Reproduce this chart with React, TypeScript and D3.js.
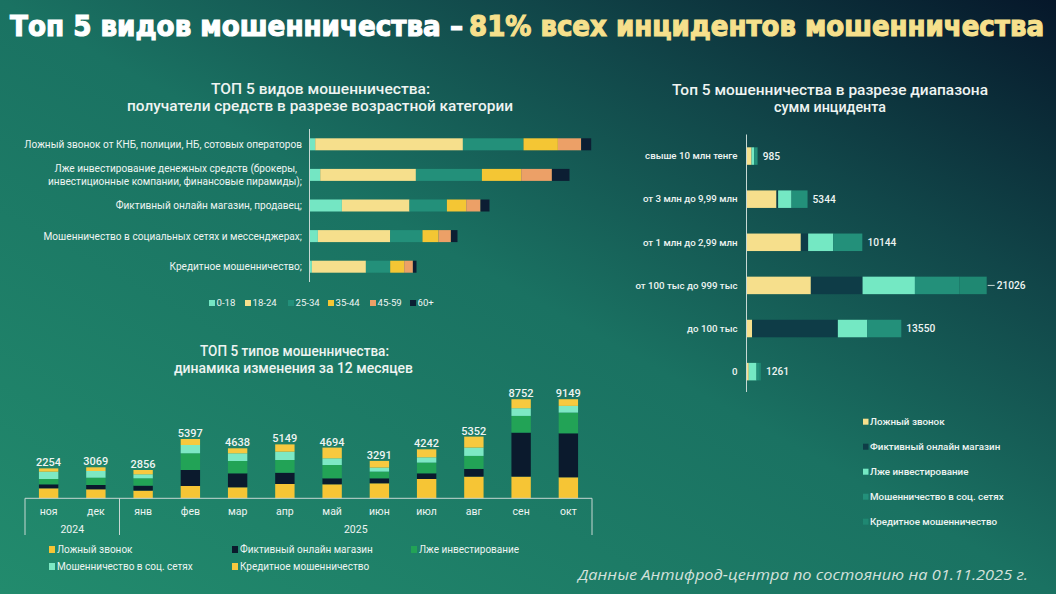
import React from "react";
import * as d3 from "d3";

// --- top-left: fraud types by age group ---
const fraudTypes = [
  ["Ложный звонок от КНБ, полиции, НБ, сотовых операторов"],
  ["Лже инвестирование денежных средств (брокеры,", "инвестиционные компании, финансовые пирамиды);"],
  ["Фиктивный онлайн магазин, продавец;"],
  ["Мошенничество в социальных сетях и мессенджерах;"],
  ["Кредитное мошенничество;"],
];
const ageGroups = ["0-18", "18-24", "25-34", "35-44", "45-59", "60+"];
const ageColors = ["#74e6c3", "#f6df8c", "#23907a", "#f4c634", "#eca067", "#0c1e33"];
const age0_18 = [57, 107, 324, 84, 24];
const age18_24 = [1477, 957, 676, 723, 540];
const age25_34 = [606, 660, 374, 323, 243];
const age35_44 = [344, 393, 193, 160, 140];
const age45_59 = [233, 307, 143, 124, 87];
const age60 = [100, 176, 90, 66, 36];
const ageSeries = [age0_18, age18_24, age25_34, age35_44, age45_59, age60];

// --- bottom: monthly dynamics ---
const months = ["ноя", "дек", "янв", "фев", "мар", "апр", "май", "июн", "июл", "авг", "сен", "окт"];
const yearLabels = ["2024", "2025"];
const yearSpans = [[0, 1], [2, 11]];
const monthTotals = [2254, 3069, 2856, 5397, 4638, 5149, 4694, 3291, 4242, 5352, 8752, 9149];
const falseCall = [920, 828, 708, 1132, 1012, 1316, 1288, 1380, 1776, 1996, 1996, 1932];
const fakeShop = [368, 396, 460, 1472, 1288, 1040, 552, 460, 524, 708, 4048, 4048];
const fakeInvest = [488, 672, 672, 1536, 1132, 1168, 1224, 616, 984, 1196, 1536, 1904];
const socialNet = [672, 616, 368, 764, 708, 764, 616, 368, 488, 764, 708, 616];
const creditFraud = [304, 340, 396, 552, 460, 672, 984, 616, 736, 1012, 828, 616];
const monthSeries = [falseCall, fakeShop, fakeInvest, socialNet, creditFraud];
const monthNames = ["Ложный звонок", "Фиктивный онлайн магазин", "Лже инвестирование", "Мошенничество в соц. сетях", "Кредитное мошенничество"];
const monthColors = ["#f6c535", "#0b1a2d", "#22a356", "#7de8c4", "#f7c93f"];

// --- right: by incident amount ---
const amountRanges = ["свыше 10 млн тенге", "от 3 млн до 9,99 млн", "от 1 млн до 2,99 млн", "от 100 тыс до 999 тыс", "до 100 тыс", "0"];
const rangeTotals = [985, 5344, 10144, 21026, 13550, 1261];
const rFalseCall = [440, 2628, 4757, 5633, 490, 200];
const rFakeShop = [0, 140, 640, 4529, 7507, 0];
const rFakeInvest = [230, 1174, 2190, 4581, 2575, 675];
const rSocial = [263, 1402, 2540, 3881, 2978, 290];
const rCredit = [52, 0, 17, 2402, 0, 96];
const rangeSeries = [rFalseCall, rFakeShop, rFakeInvest, rSocial, rCredit];
const rangeNames = ["Ложный звонок", "Фиктивный онлайн магазин", "Лже инвестирование", "Мошенничество в соц. сетях", "Кредитное мошенничество"];
const rangeColors = ["#f6df8c", "#0e3c47", "#74e8c3", "#23907a", "#1f8872"];

const FONT = "Roboto, 'Noto Sans', sans-serif";
const TITLE_FONT = "'DejaVu Sans Condensed', 'Liberation Sans Narrow', 'DejaVu Sans', sans-serif";
const TXT = "#eef4f2";

function stackRows(series: number[][], n: number) {
  const rows = d3.range(n).map((i) => series.map((s) => s[i]));
  return d3.stack<number[], number>().keys(d3.range(series.length)).value((d, k) => d[k])(rows);
}

function Title({ x, y, w, children }: { x: number; y: number; w: number; children: React.ReactNode }) {
  return (
    <text x={x} y={y} textAnchor="middle" fontSize={14.5} fontWeight={500} fill={TXT}
      textLength={w} lengthAdjust="spacingAndGlyphs">{children}</text>
  );
}

export default function App() {
  const W = 1056;
  const H = 594;

  // top-left scales
  const ageX = d3.scaleLinear().domain([0, 3000]).range([309.5, 609.5]);
  const ageY = d3.scaleBand<number>().domain(d3.range(fraudTypes.length)).range([129, 282]);
  const ageStack = stackRows(ageSeries, fraudTypes.length);
  const ageBarH = 12;

  // bottom scales
  const mX = d3.scaleBand<string>().domain(months).range([25, 592]).paddingInner(0.59).paddingOuter(0.295);
  const mY = d3.scaleLinear().domain([0, 10000]).range([498.3, 389.6]);
  const mStack = stackRows(monthSeries, months.length);

  // right scales
  const rX = d3.scaleLinear().domain([0, 21026]).range([746.5, 986.7]);
  const rY = d3.scaleBand<string>().domain(amountRanges).range([134.5, 393.2]);
  const rStack = stackRows(rangeSeries, amountRanges.length);
  const rBarH = 17.5;
  const rMax = d3.max(rangeTotals) as number;

  const ageLegendX = [209, 245, 288, 328, 370, 410];
  const stepM = mX.step();

  return (
    <svg width={W} height={H} style={{ position: "absolute", left: 0, top: 0, display: "block" }} fontFamily={FONT}>
      <defs>
        <linearGradient id="bg" x1="0" y1="1" x2="1" y2="0">
          <stop offset="0" stopColor="#228b6d" />
          <stop offset="0.5" stopColor="#1a7262" />
          <stop offset="0.75" stopColor="#114649" />
          <stop offset="1" stopColor="#06172a" />
        </linearGradient>
      </defs>
      <rect x={0} y={0} width={W} height={H} fill="url(#bg)" />

      {/* main title */}
      <text x={10} y={36} fontFamily={TITLE_FONT} fontWeight={900} fontSize={29} fill="#ffffff" stroke="#ffffff"
        strokeWidth={1.1} textLength={453} lengthAdjust="spacingAndGlyphs">
        Топ 5 видов мошенничества –
      </text>
      <text x={469} y={36} fontFamily={TITLE_FONT} fontWeight={900} fontSize={29} fill="#f6e08c" stroke="#f6e08c"
        strokeWidth={1.1} textLength={575} lengthAdjust="spacingAndGlyphs">
        81% всех инцидентов мошенничества
      </text>

      {/* ---------- top-left chart ---------- */}
      <Title x={320.5} y={94} w={219}>ТОП 5 видов мошенничества:</Title>
      <Title x={320} y={110.5} w={386}>получатели средств в разрезе возрастной категории</Title>
      {fraudTypes.map((lines, i) => {
        const cy = (ageY(i) as number) + ageY.bandwidth() / 2;
        return lines.map((ln, j) => (
          <text key={`fl${i}-${j}`} x={j === 0 && lines.length > 1 ? 297 : 302} y={cy + 3.5 + (j - (lines.length - 1) / 2) * 13}
            textAnchor="end" fontSize={10.1} fill={TXT}>{ln}</text>
        ));
      })}
      {ageStack.map((layer, k) =>
        layer.map((d, i) => (
          <rect key={`ab${k}-${i}`} x={ageX(d[0])} width={Math.max(0, ageX(d[1]) - ageX(d[0]))}
            y={(ageY(i) as number) + ageY.bandwidth() / 2 - ageBarH / 2} height={ageBarH} fill={ageColors[k]} />
        ))
      )}
      <line x1={309.5} x2={309.5} y1={129} y2={282} stroke="#c7d8d3" strokeWidth={1} />
      {ageGroups.map((g, k) => (
        <g key={`al${k}`}>
          <rect x={ageLegendX[k]} y={300} width={6} height={6} fill={ageColors[k]} />
          <text x={ageLegendX[k] + 7.5} y={306.3} fontSize={9.6} fill={TXT}>{g}</text>
        </g>
      ))}

      {/* ---------- bottom chart ---------- */}
      <Title x={294.5} y={356} w={189}>ТОП 5 типов мошенничества:</Title>
      <Title x={293.5} y={373} w={239}>динамика изменения за 12 месяцев</Title>
      {mStack.map((layer, k) =>
        layer.map((d, i) => (
          <rect key={`mb${k}-${i}`} x={mX(months[i])} width={mX.bandwidth()} y={mY(d[1])}
            height={Math.max(0, mY(d[0]) - mY(d[1]))} fill={monthColors[k]} />
        ))
      )}
      {months.map((m, i) => {
        const top = mY(mStack[mStack.length - 1][i][1]);
        const cx = (mX(m) as number) + mX.bandwidth() / 2;
        return (
          <g key={`ml${i}`}>
            <text x={cx} y={top - 2} textAnchor="middle" fontSize={11} fontWeight={500} fill={TXT}>{monthTotals[i]}</text>
            <text x={cx} y={514.5} textAnchor="middle" fontSize={10.5} fill={TXT}>{m}</text>
          </g>
        );
      })}
      <line x1={25} x2={592} y1={mY(0)} y2={mY(0)} stroke="#c7d8d3" strokeWidth={1} />
      {yearSpans.map((s, j) => {
        const x0 = (mX(months[s[0]]) as number) - (stepM - mX.bandwidth()) / 2;
        const x1 = (mX(months[s[1]]) as number) + mX.bandwidth() + (stepM - mX.bandwidth()) / 2;
        return (
          <g key={`yr${j}`}>
            <line x1={x0} x2={x0} y1={mY(0)} y2={535} stroke="#c7d8d3" strokeWidth={1} />
            {j === yearSpans.length - 1 && <line x1={x1} x2={x1} y1={mY(0)} y2={535} stroke="#c7d8d3" strokeWidth={1} />}
            <text x={(x0 + x1) / 2} y={533} textAnchor="middle" fontSize={10.5} fill={TXT}>{yearLabels[j]}</text>
          </g>
        );
      })}
      {monthNames.map((nm, k) => {
        const col = k < 3 ? k : k - 3;
        const row = k < 3 ? 0 : 1;
        const lx = [49, 232, 411][col];
        const ly = [549.5, 566.5][row];
        return (
          <g key={`mlg${k}`}>
            <rect x={lx} y={ly - 3.5} width={6} height={7} fill={monthColors[k]} />
            <text x={lx + 8} y={ly + 3.5} fontSize={10} fill={TXT}>{nm}</text>
          </g>
        );
      })}

      {/* ---------- right chart ---------- */}
      <Title x={830} y={94.5} w={316}>Топ 5 мошенничества в разрезе диапазона</Title>
      <Title x={830} y={112} w={112}>сумм инцидента</Title>
      {amountRanges.map((r) => {
        const cy = (rY(r) as number) + rY.bandwidth() / 2;
        return (
          <text key={`rl${r}`} x={737.5} y={cy + 3.3} textAnchor="end" fontSize={9.7} fontWeight={500} fill={TXT}>{r}</text>
        );
      })}
      {rStack.map((layer, k) =>
        layer.map((d, i) => (
          <rect key={`rb${k}-${i}`} x={rX(d[0])} width={Math.max(0, rX(d[1]) - rX(d[0]))}
            y={(rY(amountRanges[i]) as number) + rY.bandwidth() / 2 - rBarH / 2} height={rBarH} fill={rangeColors[k]} />
        ))
      )}
      {amountRanges.map((r, i) => {
        const cy = (rY(r) as number) + rY.bandwidth() / 2;
        const end = rX(rStack[rStack.length - 1][i][1]);
        const isMax = rangeTotals[i] === rMax;
        return (
          <g key={`rv${i}`}>
            {isMax && <line x1={end + 1} x2={end + 8} y1={cy} y2={cy} stroke="#c7d8d3" strokeWidth={1} />}
            <text x={end + (isMax ? 10 : 5)} y={cy + 3.6} fontSize={10.2} fontWeight={500} fill={TXT}>{rangeTotals[i]}</text>
          </g>
        );
      })}
      <line x1={746.5} x2={746.5} y1={134.5} y2={392} stroke="#c7d8d3" strokeWidth={1} />
      {rangeNames.map((nm, k) => {
        const ly = 421.7 + k * 25;
        return (
          <g key={`rlg${k}`}>
            <rect x={863} y={ly - 3} width={5.5} height={6} fill={rangeColors[k]} />
            <text x={870} y={ly + 3.2} fontSize={9.8} fontWeight={500} fill={TXT}>{nm}</text>
          </g>
        );
      })}

      {/* footer */}
      <text x={578} y={580} fontFamily="'Open Sans', Lato, sans-serif" fontStyle="italic" fontSize={14} fill="#d3e1dc"
        textLength={450} lengthAdjust="spacingAndGlyphs">
        Данные Антифрод-центра по состоянию на 01.11.2025 г.
      </text>
    </svg>
  );
}
